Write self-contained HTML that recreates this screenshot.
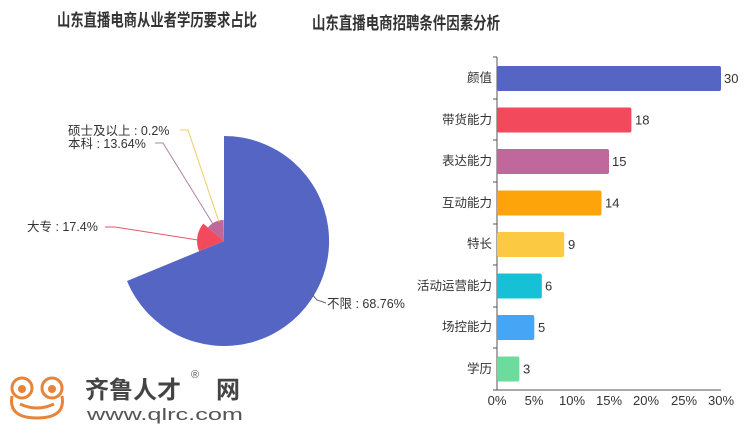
<!DOCTYPE html>
<html><head><meta charset="utf-8"><style>
html,body{margin:0;padding:0;background:#fff;}
svg{display:block;font-family:"Liberation Sans","Noto Sans CJK SC",sans-serif;}
</style></head><body>
<svg width="750" height="437" viewBox="0 0 750 437">
<text x="57" y="26" font-size="17" font-weight="bold" fill="#333" textLength="200" lengthAdjust="spacingAndGlyphs">山东直播电商从业者学历要求占比</text>
<text x="312" y="29" font-size="17" font-weight="bold" fill="#333" textLength="188" lengthAdjust="spacingAndGlyphs">山东直播电商招聘条件因素分析</text>

<!-- pie -->
<path d="M224,241 L224,136 A105,105 0 1 1 127,281 Z" fill="#5565c4"/>
<path d="M224,241 L199.1,251.3 A27,27 0 0 1 203.3,223.6 Z" fill="#f24a5c"/>
<path d="M224,241 L207.9,227.5 A21,21 0 0 1 223.7,220 Z" fill="#c0679b"/>
<path d="M224,241 L223.7,231 A10,10 0 0 1 224,231 Z" fill="#f5c842"/>
<polyline points="105,227 115,227 198,240" fill="none" stroke="#e25a6a" stroke-width="1"/>
<polyline points="155,143 163,143 213,224" fill="none" stroke="#b080a8" stroke-width="1"/>
<polyline points="180,130 188,130 219,222" fill="none" stroke="#f0cc60" stroke-width="1"/>
<polyline points="326,303 317,300 310,292" fill="none" stroke="#666" stroke-width="1"/>
<g font-size="12.5" fill="#333">
<text x="68" y="135">硕士及以上 : 0.2%</text>
<text x="68" y="148">本科 : 13.64%</text>
<text x="27" y="231">大专 : 17.4%</text>
<text x="327" y="308">不限 : 68.76%</text>
</g>

<!-- logo -->
<g fill="none" stroke="#e8843a" stroke-width="3">
<circle cx="22" cy="388" r="10"/>
<circle cx="52" cy="388" r="10"/>
<path d="M12,396 Q8,418 37,418 Q66,418 62,396"/>
<path d="M20,404 Q37,412 54,404"/>
</g>
<circle cx="22" cy="389" r="4" fill="#e8843a"/>
<circle cx="52" cy="389" r="4" fill="#e8843a"/>
<text x="85" y="398" font-size="24" font-weight="bold" fill="#444" textLength="96" lengthAdjust="spacingAndGlyphs">齐鲁人才</text>
<text x="216" y="398" font-size="24" font-weight="bold" fill="#444">网</text>
<text x="191" y="378" font-size="11" fill="#555">®</text>
<text x="87" y="420" font-size="17" fill="#555" textLength="156" lengthAdjust="spacingAndGlyphs">www.qlrc.com</text>

<!-- bar chart -->
<line x1="497" y1="57" x2="497" y2="390" stroke="#555" stroke-width="1"/>
<line x1="497" y1="390" x2="721" y2="390" stroke="#555" stroke-width="1"/>
<g stroke="#555">
<line x1="493" y1="57" x2="497" y2="57"/><line x1="493" y1="99" x2="497" y2="99"/>
<line x1="493" y1="140" x2="497" y2="140"/><line x1="493" y1="182" x2="497" y2="182"/>
<line x1="493" y1="224" x2="497" y2="224"/><line x1="493" y1="265" x2="497" y2="265"/>
<line x1="493" y1="307" x2="497" y2="307"/><line x1="493" y1="348" x2="497" y2="348"/>
<line x1="493" y1="390" x2="497" y2="390"/>
</g>
<g>
<rect x="497" y="66" width="224" height="25" rx="2" fill="#5565c4"/>
<rect x="497" y="107.5" width="134.4" height="25" rx="2" fill="#f24a5c"/>
<rect x="497" y="149" width="112" height="25" rx="2" fill="#c0679b"/>
<rect x="497" y="190.5" width="104.5" height="25" rx="2" fill="#fca40a"/>
<rect x="497" y="232" width="67.2" height="25" rx="2" fill="#fbc942"/>
<rect x="497" y="273.5" width="44.8" height="25" rx="2" fill="#16c0d5"/>
<rect x="497" y="315" width="37.3" height="25" rx="2" fill="#46a6f5"/>
<rect x="497" y="356.5" width="22.4" height="25" rx="2" fill="#6bdc9c"/>
</g>
<g font-size="13" fill="#333">
<text x="724" y="83">30</text>
<text x="635" y="124.5">18</text>
<text x="612" y="166">15</text>
<text x="605" y="207.5">14</text>
<text x="568" y="249">9</text>
<text x="545" y="290.5">6</text>
<text x="538" y="332">5</text>
<text x="523" y="373.5">3</text>
</g>
<g font-size="12.5" fill="#333" text-anchor="end">
<text x="492" y="82">颜值</text>
<text x="492" y="124">带货能力</text>
<text x="492" y="165">表达能力</text>
<text x="492" y="207">互动能力</text>
<text x="492" y="248">特长</text>
<text x="492" y="290">活动运营能力</text>
<text x="492" y="331">场控能力</text>
<text x="492" y="373">学历</text>
</g>
<g font-size="13" fill="#333" text-anchor="middle">
<text x="497" y="405">0%</text>
<text x="534" y="405">5%</text>
<text x="572" y="405">10%</text>
<text x="609" y="405">15%</text>
<text x="646" y="405">20%</text>
<text x="684" y="405">25%</text>
<text x="721" y="405">30%</text>
</g>
</svg>
</body></html>
